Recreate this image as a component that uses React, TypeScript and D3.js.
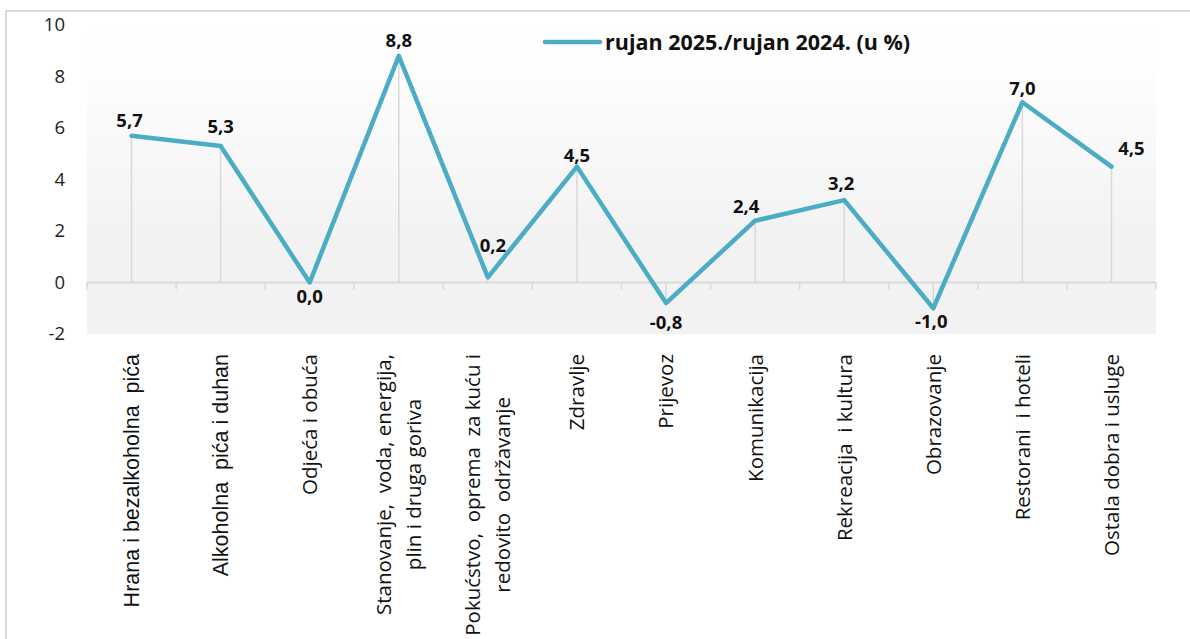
import React, { useEffect, useRef } from "react";
import * as d3 from "d3";

const categories: string[][] = [
  ["Hrana i bezalkoholna  pića"],
  ["Alkoholna  pića i duhan"],
  ["Odjeća i obuća"],
  ["Stanovanje,  voda, energija,", "plin i druga goriva"],
  ["Pokućstvo,  oprema  za kuću i", "redovito  održavanje"],
  ["Zdravlje"],
  ["Prijevoz"],
  ["Komunikacija"],
  ["Rekreacija  i kultura"],
  ["Obrazovanje"],
  ["Restorani  i hoteli"],
  ["Ostala dobra i usluge"],
];
const values: number[] = [5.7, 5.3, 0.0, 8.8, 0.2, 4.5, -0.8, 2.4, 3.2, -1.0, 7.0, 4.5];
const yTicks: number[] = [-2, 0, 2, 4, 6, 8, 10];
const seriesName = "rujan 2025./rujan 2024. (u %)";

// label placement (layout only)
const labelOffsets: [number, number][] = [
  [-2, -9], [0, -13], [0, 20], [0, -9], [5, -25], [0, -5],
  [0, 26], [-9, -8], [-3, -10], [-2, 20], [0, -7], [20, -12],
];
const arialLabels = new Set([0, 1]);

const W = 1190, H = 639;
const PL = 87, PR = 1156, PT = 25, PB = 334;
const LINE_COLOR = "#4bacc6";
const GRID = "#d9d9d9";

export default function App() {
  const ref = useRef<SVGSVGElement>(null);
  useEffect(() => {
    const svg = d3.select(ref.current!);
    svg.selectAll("*").remove();
    const x = d3.scaleBand<number>().domain(values.map((_, i) => i)).range([PL, PR]);
    const y = d3.scaleLinear().domain([-2, 10]).range([PB, PT]);
    const cx = (i: number) => (x(i) as number) + x.bandwidth() / 2;

    const defs = svg.append("defs");
    const g = defs.append("linearGradient").attr("id", "bg").attr("x1", 0).attr("y1", 0).attr("x2", 0).attr("y2", 1);
    g.append("stop").attr("offset", 0).attr("stop-color", "#ffffff");
    g.append("stop").attr("offset", 0.12).attr("stop-color", "#fefefe");
    g.append("stop").attr("offset", 0.7).attr("stop-color", "#f2f2f2");
    g.append("stop").attr("offset", 1).attr("stop-color", "#f2f2f2");

    svg.append("rect").attr("x", 0).attr("y", 0).attr("width", W).attr("height", H).attr("fill", "#fff");
    svg.append("rect").attr("x", 6).attr("y", 11).attr("width", W + 20).attr("height", H + 20)
      .attr("fill", "#fff").attr("stroke", GRID).attr("stroke-width", 2);

    svg.append("rect").attr("x", PL).attr("y", PT).attr("width", PR - PL).attr("height", PB - PT).attr("fill", "url(#bg)");

    // drop lines
    svg.append("g").selectAll("line").data(values).join("line")
      .attr("x1", (_, i) => cx(i)).attr("x2", (_, i) => cx(i))
      .attr("y1", (d) => y(d)).attr("y2", y(0))
      .attr("stroke", GRID).attr("stroke-width", 1.5);

    // x axis
    const y0 = y(0);
    svg.append("line").attr("x1", PL).attr("x2", PR).attr("y1", y0).attr("y2", y0)
      .attr("stroke", GRID).attr("stroke-width", 2);
    const bounds = values.map((_, i) => x(i) as number).concat([PR]);
    svg.append("g").selectAll("line").data(bounds).join("line")
      .attr("x1", (d) => d).attr("x2", (d) => d).attr("y1", y0).attr("y2", y0 + 7)
      .attr("stroke", GRID).attr("stroke-width", 1.5);

    // y axis labels
    svg.append("g").selectAll("text").data(yTicks).join("text")
      .attr("x", 65).attr("y", (d) => y(d)).attr("dy", "0.35em")
      .attr("text-anchor", "end").attr("font-family", "'Open Sans'").attr("font-size", 18.5)
      .attr("fill", "#222").text((d) => String(d));

    // line
    const line = d3.line<number>().x((_, i) => cx(i)).y((d) => y(d));
    svg.append("path").datum(values).attr("d", line).attr("fill", "none")
      .attr("stroke", LINE_COLOR).attr("stroke-width", 4.5).attr("stroke-linejoin", "round").attr("stroke-linecap", "round");

    // data labels
    svg.append("g").selectAll("text").data(values).join("text")
      .attr("x", (_, i) => cx(i) + labelOffsets[i][0])
      .attr("y", (d, i) => y(d) + labelOffsets[i][1])
      .attr("text-anchor", "middle").attr("font-family", "'Open Sans'").attr("font-weight", "bold")
      .attr("font-size", 18.5).attr("fill", "#111")
      .text((d) => d3.format(".1f")(d).replace(".", ",").replace("−", "-"));

    // category labels
    const topY = 354;
    const spacing = 30;
    categories.forEach((lines, i) => {
      const grp = svg.append("g");
      const fam = arialLabels.has(i) ? "'Liberation Sans'" : "'Open Sans'";
      const size = arialLabels.has(i) ? 21.5 : 20.5;
      const texts = lines.map((ln) =>
        grp.append("text").attr("font-family", fam).attr("font-size", size).attr("fill", "#111")
          .attr("text-anchor", "middle").style("white-space", "pre").text(ln)
      );
      const maxLen = d3.max(texts.map((t) => (t.node() as SVGTextElement).getComputedTextLength())) || 0;
      const centerY = topY + maxLen / 2;
      const n = lines.length;
      texts.forEach((t, k) => {
        const off = (k - (n - 1) / 2) * spacing;
        const px = cx(i) + off;
        t.attr("transform", `translate(${px},${centerY}) rotate(-90)`).attr("dy", "0.36em");
      });
    });

    // legend
    svg.append("line").attr("x1", 545).attr("x2", 600).attr("y1", 42).attr("y2", 42)
      .attr("stroke", LINE_COLOR).attr("stroke-width", 4.5).attr("stroke-linecap", "round");
    svg.append("text").attr("x", 605).attr("y", 42).attr("dy", "0.35em")
      .attr("font-family", "'Open Sans'").attr("font-weight", "bold").attr("font-size", 21.5)
      .attr("fill", "#111").text(seriesName);
  }, []);
  return (
    <svg ref={ref} width={W} height={H} style={{ position: "absolute", left: 0, top: 0 }} />
  );
}
